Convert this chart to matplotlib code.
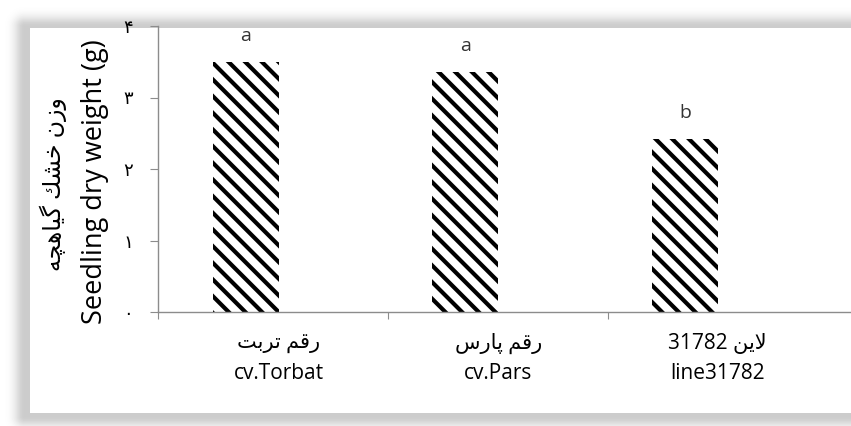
import numpy as np
import matplotlib.pyplot as plt

# Arabic/Persian text is written in presentation forms, in visual (left-to-right) order,
# because matplotlib does no shaping or bidi.
categories_en = ['cv.Torbat', 'cv.Pars', 'line31782']
categories_fa = ['\ufe96\ufe91\ufeae\ufe97 \ufee2\ufed7\ufead',        # رقم تربت
                 '\ufeb1\ufead\ufe8e\ufb58 \ufee2\ufed7\ufead',        # رقم پارس
                 '31782 \ufee6\ufef3\ufefb']                           # لاین 31782
values = [3.50, 3.36, 2.42]
letters = ['a', 'a', 'b']
yticks = [0, 1, 2, 3, 4]
ytick_labels = ['\u06f0', '\u06f1', '\u06f2', '\u06f3', '\u06f4']
ylabel_en = 'Seedling dry weight (g)'
ylabel_fa = '\ufeea\ufb7d\ufeeb\ufe8e\ufef4\ufb94 \ufeda\ufeb8\ufea7 \ufee5\ufeaf\ufeed'  # وزن خشک گیاهچه

plt.rcParams['font.family'] = ['Open Sans', 'DejaVu Sans']
plt.rcParams['hatch.linewidth'] = 3.0

W, H = 851, 426
fig = plt.figure(figsize=(8.51, 4.26), dpi=100)

# white panel with a soft shadow behind it
yy, xx = np.mgrid[0:H, 0:W]
dx = np.maximum(np.maximum(24 - xx, xx - 900), 0)
dy = np.maximum(np.maximum(26 - yy, yy - 416), 0)
shadow = np.exp(-(np.hypot(dx, dy) / 10.0) ** 2)
img = 1 - 0.2 * shadow
img[(xx >= 30) & (yy >= 28) & (yy <= 412)] = 1.0
bg = fig.add_axes([0, 0, 1, 1], zorder=-1)
bg.imshow(img, cmap='gray', vmin=0, vmax=1, extent=(0, W, H, 0),
          aspect='auto', interpolation='bilinear')
bg.axis('off')

ax = fig.add_axes([158 / W, (H - 312) / H, (W - 158) / W, 286 / H])
ax.patch.set_alpha(0)
x = np.arange(len(values)) + 0.35
ax.bar(x, values, width=0.3, color='white', edgecolor='black', hatch='\\\\', linewidth=0)

for xi, v, s in zip(x, values, letters):
    ax.text(xi, v + 0.36, s, ha='center', va='center', fontsize=14, color='#333333')

ax.set_xlim(-0.05, 3.107)
ax.set_ylim(0, 4)
for side in ['top', 'right']:
    ax.spines[side].set_visible(False)
for side in ['left', 'bottom']:
    ax.spines[side].set_color('#8c8c8c')
    ax.spines[side].set_linewidth(1)

ax.set_yticks(yticks)
ax.set_yticklabels(ytick_labels, fontsize=13)
ax.tick_params(axis='y', length=6, color='#8c8c8c', pad=12)

ax.set_xticks([-0.05, 1, 2])
ax.set_xticklabels([])
ax.tick_params(axis='x', which='major', length=5, color='#8c8c8c')
ax.set_xticks([0.5, 1.5, 2.5], minor=True)
ax.set_xticklabels([fa + '\n' + en for fa, en in zip(categories_fa, categories_en)],
                   minor=True, fontsize=15, linespacing=1.55)
ax.tick_params(axis='x', which='minor', length=0, pad=15)

fig.text(95 / W, 1 - 182 / H, ylabel_en, rotation=90, ha='center', va='center', fontsize=19.5)
fig.text(53 / W, 1 - 184 / H, ylabel_fa, rotation=90, ha='center', va='center', fontsize=17)

fig.savefig('out.png', dpi=100)
